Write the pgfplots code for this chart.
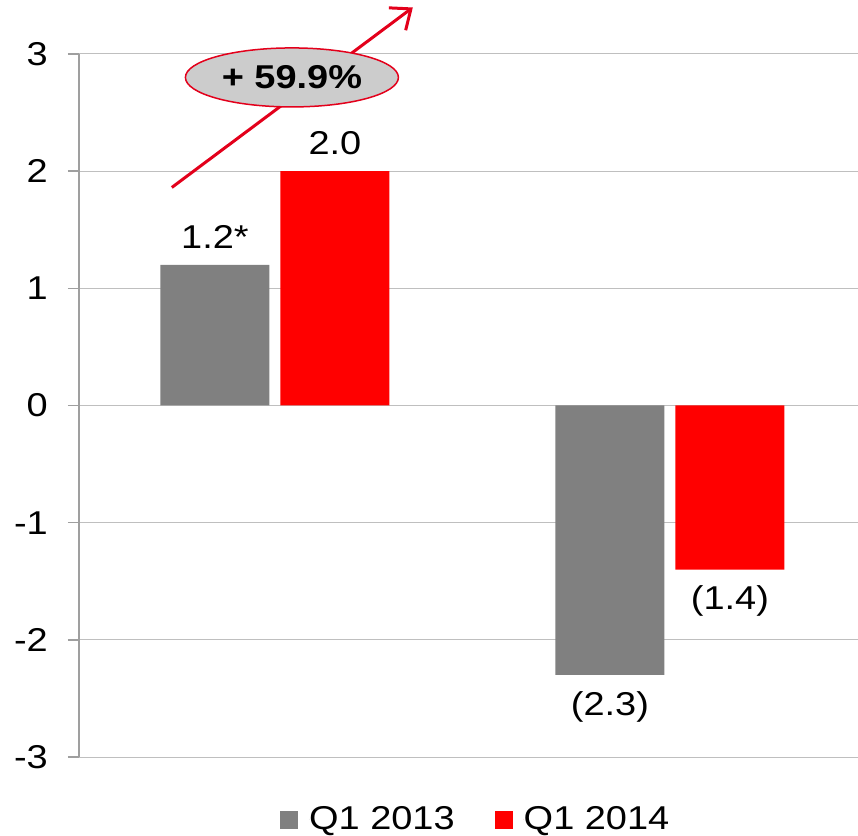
\documentclass[border=0pt]{standalone}
\usepackage{pgfplots}
\pgfplotsset{compat=1.18}
\usepackage{fontspec}
\setmainfont{Liberation Sans}[FakeStretch=1.15]
\usetikzlibrary{arrows.meta,shapes.geometric}
\definecolor{barGray}{HTML}{808080}
\definecolor{barRed}{HTML}{FF0000}
\definecolor{arrRed}{HTML}{E3001B}
\newcommand{\bigfont}{\fontsize{33bp}{40bp}\selectfont}
\begin{document}
\bigfont
\begin{tikzpicture}
\useasboundingbox (-79bp,-79bp) rectangle (779bp,757bp);
\begin{axis}[
  at={(0,0)}, anchor=south west,
  scale only axis, width=779bp, height=703bp,
  ybar=11bp, bar width=109bp,
  xmin=-0.496, xmax=1.476, ymin=-3, ymax=3,
  axis y line=left, axis x line=none,
  y axis line style={-, draw=gray!75, line width=1.5bp},
  ytick={-3,-2,-1,0,1,2,3},
  tick align=outside, major tick length=11bp,
  ytick style={draw=gray!75, line width=1.5bp},
  ymajorgrids, grid style={draw=gray!50, line width=1bp},
  /pgf/number format/assume math mode=true,
  yticklabel style={font=\bigfont, text=black, xshift=-9bp},
  clip=false,
  nodes near coords, point meta=explicit symbolic,
  visualization depends on={rawy \as \rawy},
  nodes near coords style={font=\bigfont, text=black, inner sep=16bp,
    anchor={\ifdim\rawy pt<0pt north\else south\fi}},
  legend style={at={(0.508,-0.0896)}, anchor=center, draw=none, fill=none,
    legend columns=2, font=\bigfont, inner sep=0pt,
    nodes={inner sep=0pt},
    /tikz/every even column/.append style={column sep=40bp}},
]
\addplot[fill=barGray, draw=none,
  legend image code/.code={\fill[barGray] (0bp,-9bp) rectangle (18bp,9bp); \path (29bp,0bp) -- (29bp,1bp);}]
  coordinates {(0,1.2) [1.2*] (1,-2.3) [(2.3)]};
\addlegendentry{Q1 2013}
\addplot[fill=barRed, draw=none,
  legend image code/.code={\fill[barRed] (0bp,-9bp) rectangle (18bp,9bp); \path (29bp,0bp) -- (29bp,1bp);}]
  coordinates {(0,2.0) [2.0] (1,-1.4) [(1.4)]};
\addlegendentry{Q1 2014}
\draw[arrRed, line width=3bp, -{Straight Barb[length=17bp,width=28bp,line width=3bp]}]
  (axis cs:-0.261,1.861) -- (axis cs:0.349,3.397);
\node[ellipse, draw=arrRed, line width=1.5bp, fill=gray!40, minimum width=213bp,
  minimum height=59bp, inner sep=0pt, font=\bigfont\bfseries, text=black]
  at (axis cs:0.043,2.80) {+ 59.9\%};
\end{axis}
\end{tikzpicture}
\end{document}
